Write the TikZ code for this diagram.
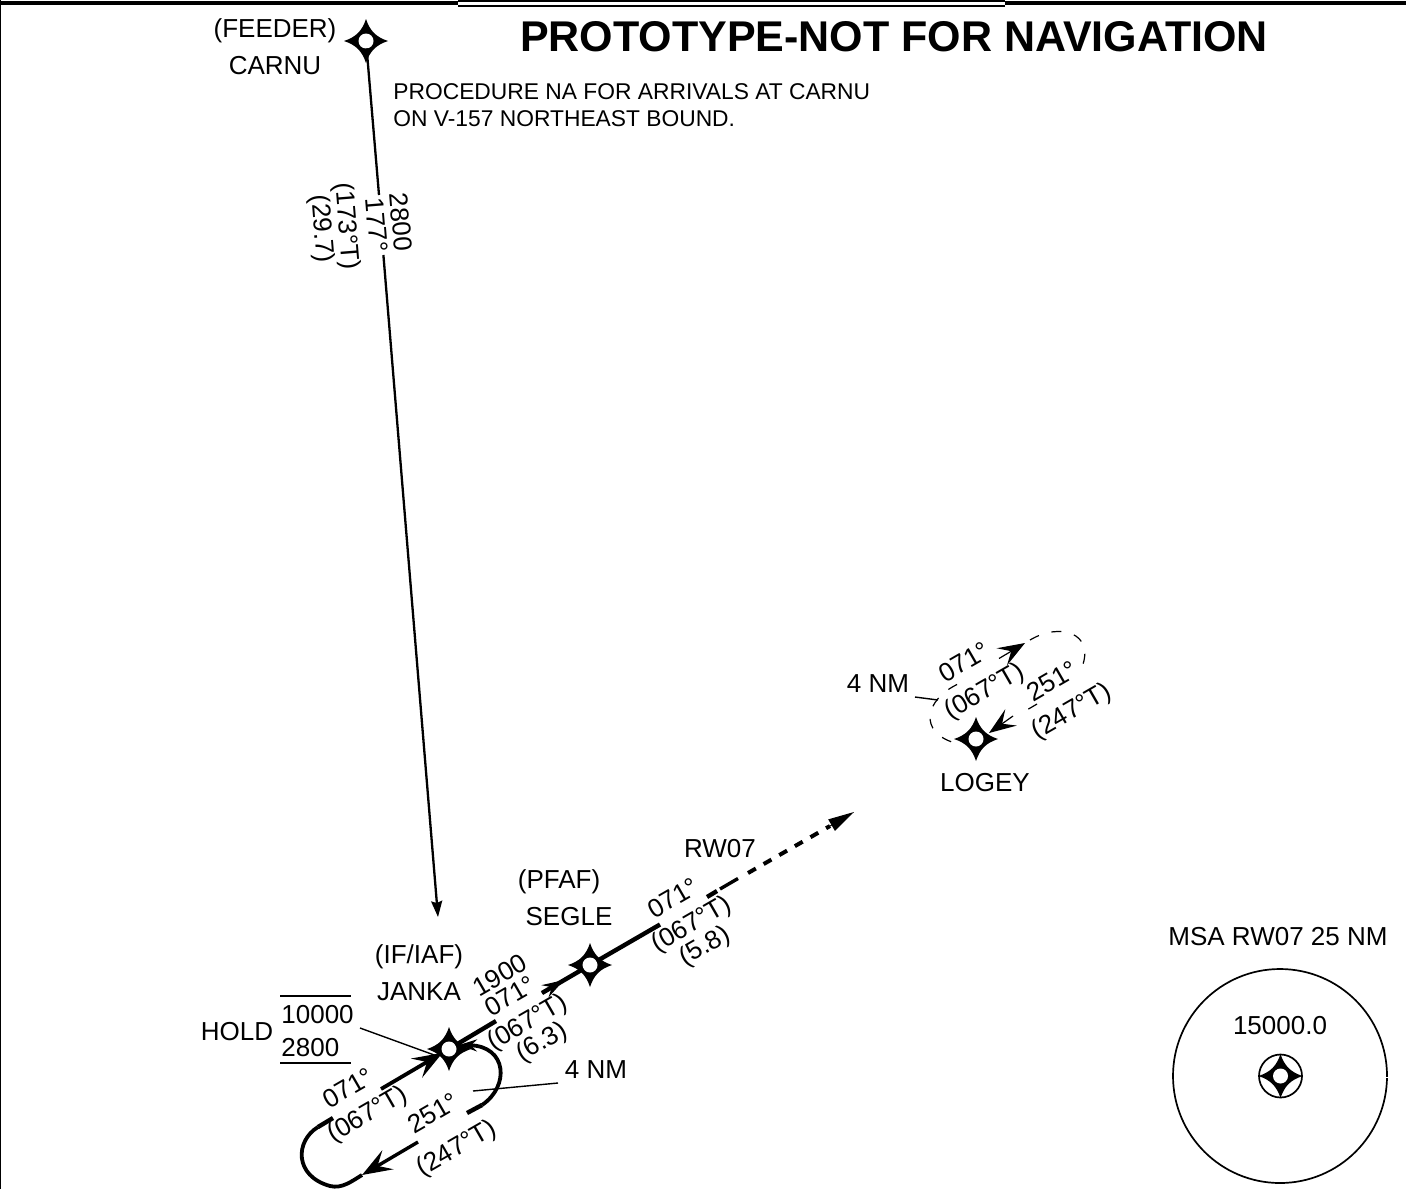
\documentclass[tikz,border=0pt]{standalone}
\usepackage{fontspec}
\setmainfont{Liberation Sans}
\usetikzlibrary{arrows.meta}

\tikzset{
	fix/.style={shape=circle,fill=white,draw=none,minimum size=7.5pt,inner sep=0pt,outer sep=0pt},
	fixstar/.pic={
		\fill[black] (0,-22) .. controls (4,-10) and (10,-4) .. (22,0)
			.. controls (10,4) and (4,10) .. (0,22)
			.. controls (-4,10) and (-10,4) .. (-22,0)
			.. controls (-10,-4) and (-4,-10) .. (0,-22) -- cycle;
	},
	lbl/.style={font=\fontsize{13}{15}\selectfont,inner sep=0pt},
	note/.style={font=\fontsize{11.4}{13}\selectfont,inner sep=0pt,anchor=west},
	course/.style={line width=2.2pt},
	turn/.style={line width=1.9pt},
	leg/.style={line width=1.15pt},
	leader/.style={line width=0.7pt},
	ghost/.style={line width=0.6pt,dash pattern=on 5pt off 6.5pt},
	barb/.style={-{Stealth[length=15pt,width=11pt,inset=6pt]}},
	smallbarb/.style={-{Stealth[length=13.5pt,width=10pt,inset=5.5pt]}}
}

\begin{document}
\begin{tikzpicture}[x=0.5pt,y=-0.5pt]
	\useasboundingbox (0,0) rectangle (1406,1189);

	% frame
	\coordinate (tl) at (0,3);
	\coordinate (tm) at (458,3);
	\coordinate (tr) at (1005,3);
	\coordinate (te) at (1406,3);
	\coordinate (bl) at (0.5,1189);
	\draw[line width=2pt] (tl) -- (tm);
	\draw[line width=2pt] (tr) -- (te);
	\draw[line width=0.6pt] (458,1) -- (1005,1);
	\draw[line width=0.8pt] (458,6) -- (1005,6);
	\draw[line width=0.8pt] (0.5,0) -- (bl);

	% fixes
	\foreach \nm/\xx/\yy in {carnu/366/41,janka/449/1049,segle/590/965,logey/976/739,msafix/1280.5/1076}{
		\pic at (\xx,\yy) {fixstar};
		\node[fix] (\nm) at (\xx,\yy) {};
	}

	% feeder leg
	\coordinate (f1) at (379,195);
	\coordinate (f2) at (383.4,255);
	\coordinate (f3) at (438,917);
	\draw[leg] (carnu) -- (f1);
	\draw[leg,-{Stealth[length=8pt,width=5.5pt,inset=1pt]}] (f2) -- (f3);

	% final course
	\coordinate (a1) at (496,1021);
	\coordinate (a2) at (542,993);
	\coordinate (a3) at (564,980);
	\coordinate (b1) at (660,924.5);
	\coordinate (b2) at (707,897);
	\coordinate (b3) at (717,891);
	\coordinate (b4) at (720,889);
	\coordinate (b5) at (738,878.5);
	\coordinate (b6) at (748,873);
	\coordinate (b7) at (854,812);
	\draw[course] (janka) -- (a1);
	\draw[course] (a2) -- (segle);
	\draw[line width=1.2pt,-{Stealth[length=11pt,width=7pt,inset=4pt]}] (a2) -- (a3);
	\draw[course] (segle) -- (b1);
	\draw[course] (b2) -- (b3);
	\draw[line width=1.7pt] (b4) -- (b5);
	\path[draw,line width=2pt,dash pattern=on 4.5pt off 4.5pt] (b6) -- (830,826);
	\draw[line width=0.5pt,-{Stealth[length=13pt,width=6.5pt,inset=0pt]}] (830,826) -- (b7);

	% hold at the initial fix
	\coordinate (h1) at (381,1089);
	\coordinate (h2) at (318,1127);
	\coordinate (h3) at (333,1118);
	\coordinate (h4) at (362,1175);
	\coordinate (h5) at (418,1142);
	\coordinate (h6) at (467,1113);
	\coordinate (h7) at (482,1105);
	\coordinate (h8) at (459,1045);
	\draw[course,line width=1.9pt,barb] (h1) -- (janka);
	\draw[course] (h2) -- (h3);
	\draw[turn] (h2) .. controls (295,1141) and (294,1176) .. (330,1186)
		.. controls (342,1189) and (352,1181) .. (h4);
	\draw[course,line width=1.7pt,barb] (h5) -- (h4);
	\draw[course] (h6) -- (h7);
	\draw[turn,-{Stealth[length=9pt,width=6pt,inset=3pt]}] (h7) .. controls (510,1086) and (507,1046) .. (h8);

	% hold at the missed fix
	\coordinate (m1) at (957,684.5);
	\coordinate (m2) at (955,743);
	\coordinate (m3) at (999,658.5);
	\coordinate (m4) at (1025,643);
	\coordinate (m5) at (1030,640);
	\coordinate (m6) at (1082,667);
	\coordinate (m7) at (1037,704);
	\coordinate (m8) at (1020,714);
	\coordinate (m9) at (1013,716);
	\coordinate (m10) at (989,733);
	\draw[ghost] (m1) .. controls (925,700) and (918,732) .. (m2);
	\draw[line width=0.6pt,smallbarb] (m3) -- (m4);
	\draw[ghost] (m5) .. controls (1060,622) and (1095,633) .. (m6);
	\draw[ghost] (m7) -- (m8);
	\draw[line width=0.6pt,smallbarb] (m9) -- (m10);

	% leaders
	\coordinate (l1) at (360,1028);
	\coordinate (l2) at (437,1056);
	\coordinate (l3) at (473,1091);
	\coordinate (l4) at (558,1083);
	\coordinate (l5) at (915,697);
	\coordinate (l6) at (938,700);
	\draw[leader] (l1) -- (l2);
	\draw[leader] (l3) -- (l4);
	\draw[leader] (l5) -- (l6);

	% hold altitude bars
	\coordinate (q1) at (280,996);
	\coordinate (q2) at (351,996);
	\coordinate (q3) at (280,1063);
	\coordinate (q4) at (351,1063);
	\draw[leader] (q1) -- (q2);
	\draw[leader] (q3) -- (q4);

	% minimum safe altitude
	\node[shape=circle,draw=black,line width=0.85pt,minimum size=107pt,inner sep=0pt,outer sep=0pt] (msa) at (1280,1076) {};
	\node[shape=circle,draw=black,line width=0.85pt,minimum size=21.5pt,inner sep=0pt,outer sep=0pt] (msaring) at (msafix) {};
	\coordinate (gap) at (1388,1077);
	\draw[white,line width=0.5pt] (1385,1077) -- (gap);

	% texts
	\node[font=\bfseries\fontsize{21.5}{24}\selectfont,inner sep=0pt] (title) at (894,37) {PROTOTYPE-NOT FOR NAVIGATION};
	\node[note] (note1) at (393,92) {PROCEDURE NA FOR ARRIVALS AT CARNU};
	\node[note] (note2) at (393,119) {ON V-157 NORTHEAST BOUND.};

	\node[lbl] (feeder) at (275,31) {(FEEDER)};
	\node[lbl] (carnulbl) at (275,66) {CARNU};
	\node[lbl,rotate=-85.4] (alt) at (401,222) {2800};
	\node[lbl,rotate=-85.4] (mag) at (377,225) {177°};
	\node[lbl,rotate=-85.4] (true) at (346,226) {(173°T)};
	\node[lbl,rotate=-85.4] (dist) at (321,229) {(29.7)};

	\node[lbl] (iaf) at (419,957) {(IF/IAF)};
	\node[lbl] (jankalbl) at (419,992) {JANKA};
	\node[lbl] (pfaf) at (559,882) {(PFAF)};
	\node[lbl] (seglelbl) at (569,917) {SEGLE};
	\node[lbl] (rw) at (720,849) {RW07};
	\node[lbl] (logeylbl) at (985,783) {LOGEY};
	\node[lbl] (msatxt) at (1278,937) {MSA RW07 25 NM};
	\node[lbl] (msaval) at (1280,1026) {15000.0};
	\node[lbl] (hold) at (237,1032) {HOLD};
	\node[lbl,anchor=west] (upper) at (281,1015) {10000};
	\node[lbl,anchor=west] (lower) at (281,1048) {2800};
	\node[lbl] (nm1) at (596,1070) {4 NM};
	\node[lbl] (nm2) at (878,684) {4 NM};

	\begin{scope}[every node/.style={lbl,rotate=30}]
		\node (j1) at (500,975) {1900};
		\node (j2) at (510,996) {071°};
		\node (j3) at (528,1023) {(067°T)};
		\node (j4) at (542,1043) {(6.3)};
		\node (s1) at (673,898) {071°};
		\node (s2) at (692,925) {(067°T)};
		\node (s3) at (705,947) {(5.8)};
		\node (h071) at (348,1088) {071°};
		\node (h067) at (368,1115) {(067°T)};
		\node (h251) at (433,1113) {251°};
		\node (h247) at (457,1149) {(247°T)};
		\node (m071) at (964,662) {071°};
		\node (m067) at (985,692) {(067°T)};
		\node (m251) at (1052,681) {251°};
		\node (m247) at (1072,712) {(247°T)};
	\end{scope}
\end{tikzpicture}
\end{document}
